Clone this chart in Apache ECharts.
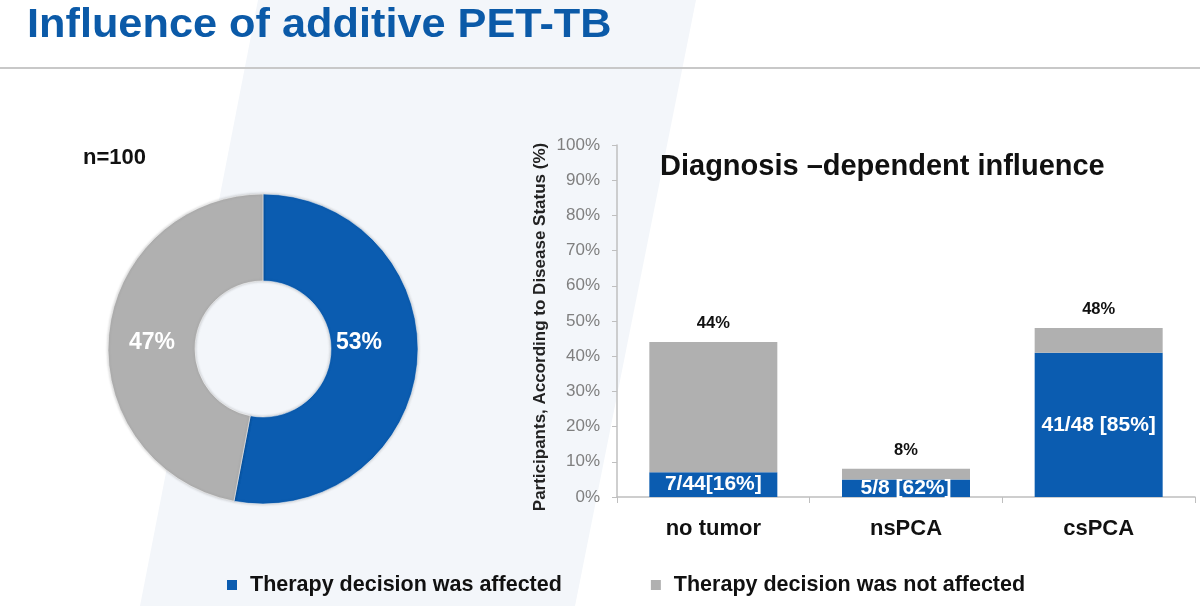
<!DOCTYPE html>
<html>
<head>
<meta charset="utf-8">
<script src="https://cdn.jsdelivr.net/npm/echarts@6/dist/echarts.min.js"></script>
<style>
html,body{margin:0;padding:0;background:#fff;}
#c{width:1200px;height:606px;}
</style>
</head>
<body>
<div id="c"></div>
<script>
// ---- data ----
var pageTitle = 'Influence of additive PET-TB';
var chartTitle = 'Diagnosis \u2013dependent influence';
var sampleLabel = 'n=100';
var seriesNames = ['Therapy decision was affected', 'Therapy decision was not affected'];
var pieValues = [53, 47];
var categories = ['no tumor', 'nsPCA', 'csPCA'];
var affected = [7, 5, 41];
var notAffected = [37, 3, 7];
var affectedLabels = ['7/44[16%]', '5/8 [62%]', '41/48 [85%]'];
var yAxisName = 'Participants, According to Disease Status (%)';

var BLUE = '#0b5cb0';
var GRAY = '#b0b0b0';
var FONT = '"Liberation Sans", Arial, sans-serif';

var totals = categories.map(function (c, i) { return affected[i] + notAffected[i]; });
var pieLabelShift = [[-18, -17], [3, 4]];

var chart = echarts.init(document.getElementById('c'));
chart.setOption({
  animation: false,
  textStyle: { fontFamily: FONT },
  graphic: [
    { type: 'polygon', z: -10, silent: true,
      shape: { points: [[258, 0], [696, 0], [575, 606], [140, 606]] },
      style: { fill: '#f3f6fa' } },
    { type: 'line', z: -5, silent: true,
      shape: { x1: 0, y1: 68, x2: 1200, y2: 68 },
      style: { stroke: '#c8c8c8', lineWidth: 2 } },
    { type: 'text', x: 27, y: 5, scaleX: 1.056,
      style: { text: pageTitle, fill: '#0b5aa8', font: 'bold 41px ' + FONT } },
    { type: 'text', x: 83, y: 147,
      style: { text: sampleLabel, fill: '#111', font: 'bold 22px ' + FONT } },
    { type: 'text', x: 660, y: 152,
      style: { text: chartTitle, fill: '#111', font: 'bold 29px ' + FONT } }
  ],
  legend: {
    left: 222, top: 569,
    icon: 'rect', itemWidth: 10, itemHeight: 10, itemGap: 89,
    data: seriesNames,
    textStyle: { fontSize: 21.5, fontWeight: 'bold', color: '#111', fontFamily: FONT, padding: [0, 0, 0, 8] }
  },
  grid: { left: 617, right: 5, top: 145, bottom: 109 },
  xAxis: {
    type: 'category', data: categories,
    axisLine: { lineStyle: { color: '#bfbfbf', width: 1.5 } },
    axisTick: { show: true, length: 6, lineStyle: { color: '#bfbfbf' } },
    axisLabel: { fontSize: 22, fontWeight: 'bold', color: '#111', margin: 21, fontFamily: FONT }
  },
  yAxis: {
    type: 'value', min: 0, max: 100, interval: 10,
    name: yAxisName, nameLocation: 'middle', nameRotate: 90, nameGap: 68,
    nameTextStyle: { fontSize: 17, fontWeight: 'bold', color: '#222', fontFamily: FONT, padding: [0, 12, 0, 0] },
    axisLine: { show: true, lineStyle: { color: '#bfbfbf', width: 1.5 } },
    axisTick: { show: true, length: 5, lineStyle: { color: '#bfbfbf' } },
    splitLine: { show: false },
    axisLabel: { formatter: '{value}%', fontSize: 17, color: '#7f7f7f', margin: 17, fontFamily: FONT }
  },
  series: [
    { type: 'pie', name: 'pie', center: [263, 349], radius: [68, 155], startAngle: 90, clockwise: true,
      avoidLabelOverlap: false,
      itemStyle: { borderColor: 'rgba(255,255,255,0.5)', borderWidth: 1,
        shadowColor: 'rgba(0,0,0,0.25)', shadowBlur: 3 },
      label: { position: 'inside', formatter: '{c}%', color: '#fff', fontSize: 23, fontWeight: 'bold', fontFamily: FONT },
      labelLayout: function (p) {
        var s = pieLabelShift[p.dataIndex];
        return { dx: s[0], dy: s[1] };
      },
      labelLine: { show: false },
      emphasis: { disabled: true },
      data: [
        { name: seriesNames[0], value: pieValues[0], itemStyle: { color: BLUE } },
        { name: seriesNames[1], value: pieValues[1], itemStyle: { color: GRAY } }
      ]
    },
    { type: 'bar', name: seriesNames[0], stack: 's', barWidth: 128, data: affected,
      itemStyle: { color: BLUE },
      label: { show: true, position: 'inside', color: '#fff', fontSize: 21, fontWeight: 'bold', fontFamily: FONT,
        formatter: function (p) { return affectedLabels[p.dataIndex]; } }
    },
    { type: 'bar', name: seriesNames[1], stack: 's', barWidth: 128, data: notAffected,
      itemStyle: { color: GRAY },
      label: { show: true, position: 'top', distance: 10, color: '#111', fontSize: 16.5, fontWeight: 'bold', fontFamily: FONT,
        formatter: function (p) { return totals[p.dataIndex] + '%'; } }
    }
  ]
});
</script>
</body>
</html>
